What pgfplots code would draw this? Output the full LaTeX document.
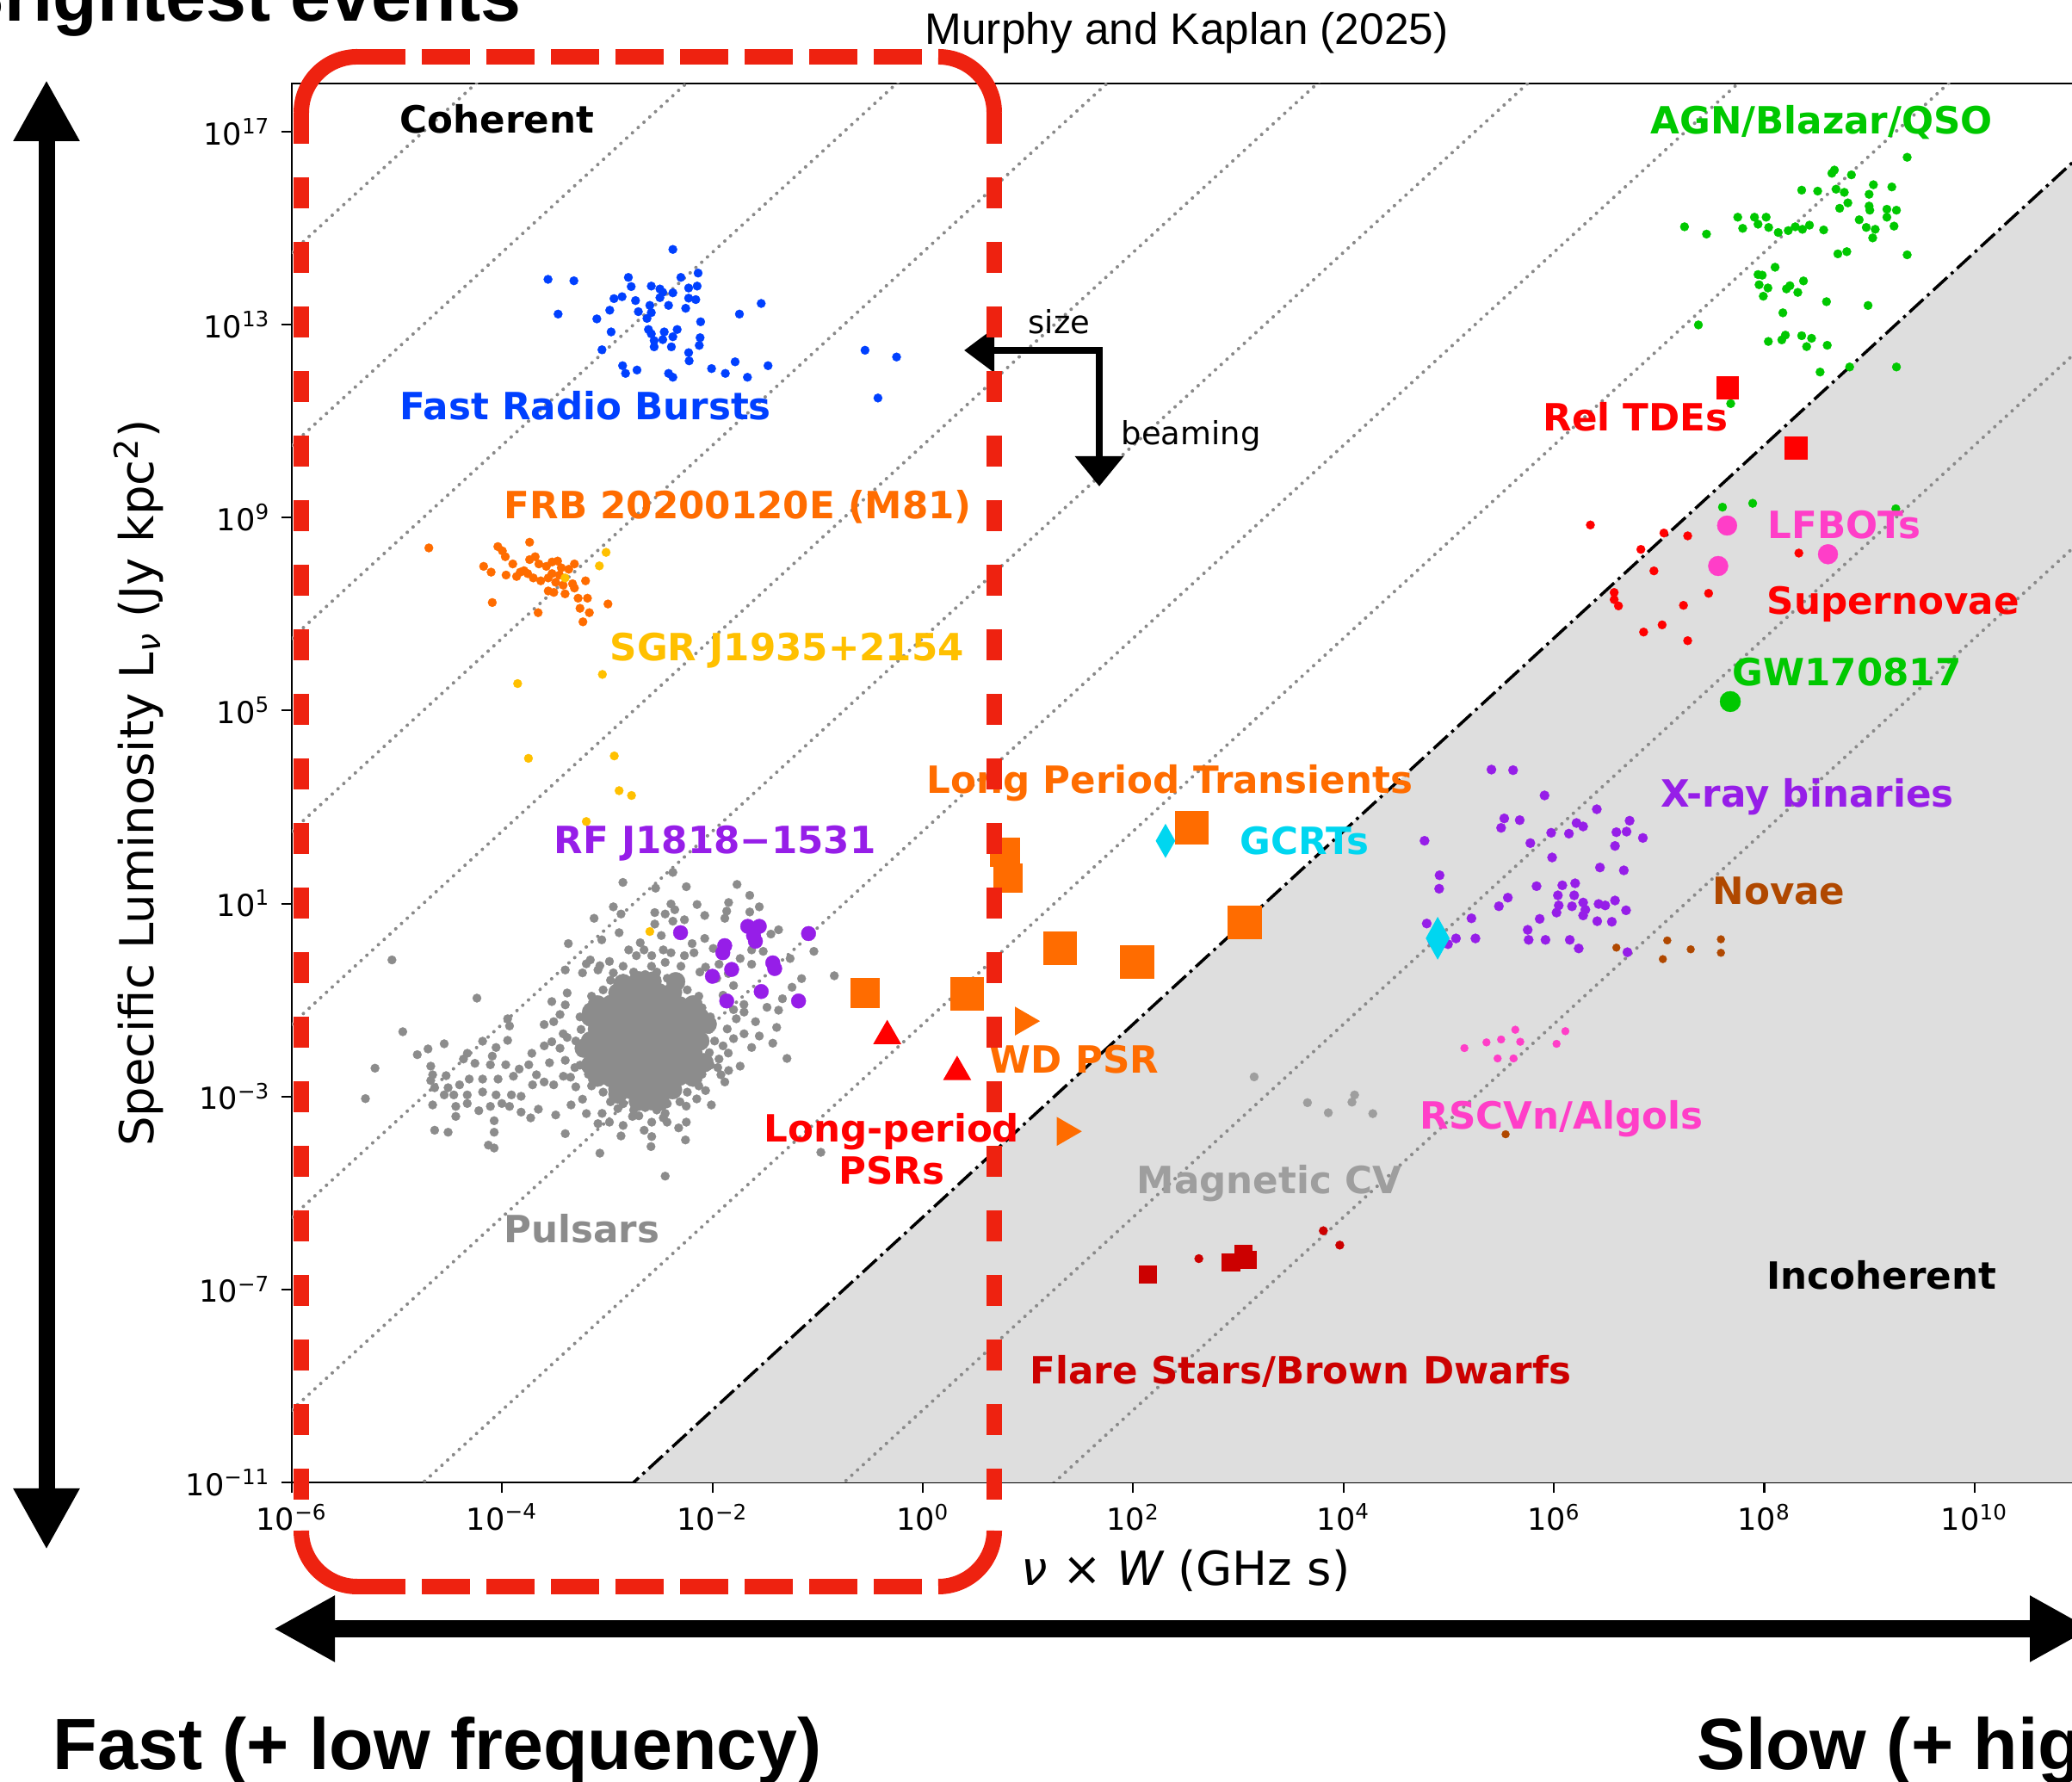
\documentclass[border=0pt]{standalone}
\usepackage{fontspec}
\setmainfont{DejaVu Sans}
\newfontfamily\helv{Liberation Sans}
\usepackage{pgfplots}
\pgfplotsset{compat=1.18}
\usetikzlibrary{arrows.meta}

\definecolor{frbblue}{RGB}{0,64,255}
\definecolor{lptorange}{RGB}{255,108,0}
\definecolor{sgryellow}{RGB}{255,192,0}
\definecolor{magpurple}{RGB}{150,30,232}
\definecolor{psrgray}{RGB}{140,140,140}
\definecolor{cvgray}{RGB}{158,158,158}
\definecolor{gcrtcyan}{RGB}{0,214,240}
\definecolor{agngreen}{RGB}{0,200,0}
\definecolor{lfbotpink}{RGB}{255,62,200}
\definecolor{novabrown}{RGB}{176,72,0}
\definecolor{flarered}{RGB}{204,0,0}
\definecolor{incohgray}{RGB}{222,222,222}
\definecolor{dotgray}{RGB}{138,138,138}
\definecolor{boxred}{RGB}{238,34,16}

\pgfplotsset{
  pts/.style={only marks, mark=*, mark size=#1, mark options={line width=0.1pt}},
  pts/.default=0.5mm,
  tbline/.style={dotgray, line width=0.4mm, line cap=round, dash pattern=on 0.01mm off 0.9mm},
}
\newcommand{\lab}{\fontsize{12.4}{15}\selectfont\bfseries}

\begin{document}
\begin{tikzpicture}
\useasboundingbox (0,0) rectangle (240.7mm,206.9mm);
\clip (0,0) rectangle (240.7mm,206.9mm);

\begin{axis}[
  at={(33.9mm,34.7mm)}, anchor=south west,
  scale only axis, width=207.7mm, height=162.5mm,
  xmin=-6, xmax=11, ymin=-11, ymax=18,
  axis line style={line width=0.6pt},
  xtick={-6,-4,-2,0,2,4,6,8,10},
  xticklabels={10\textsuperscript{−6},10\textsuperscript{−4},10\textsuperscript{−2},10\textsuperscript{0},10\textsuperscript{2},10\textsuperscript{4},10\textsuperscript{6},10\textsuperscript{8},10\textsuperscript{10}},
  ytick={-11,-7,-3,1,5,9,13,17},
  yticklabels={10\textsuperscript{−11},10\textsuperscript{−7},10\textsuperscript{−3},10\textsuperscript{1},10\textsuperscript{5},10\textsuperscript{9},10\textsuperscript{13},10\textsuperscript{17}},
  xtick pos=bottom, ytick pos=left,
  tick align=outside,
  major tick length=1.25mm,
  every tick/.style={black, line width=0.6pt},
  tick label style={font=\fontsize{10}{12}\selectfont},
  xlabel={{\itshape ν} × {\itshape W} (GHz s)},
  ylabel={Specific Luminosity L\textsubscript{\itshape ν} (Jy kpc\textsuperscript{2})},
  label style={font=\fontsize{15.5}{18}\selectfont},
  xlabel style={at={(axis description cs:0.5,-0.0628)}, anchor=center},
  ylabel style={at={(axis description cs:-0.0857,0.5)}, anchor=center},
]

% incoherent (brightness temperature limit) region
\addplot[fill=incohgray, draw=none] coordinates {(-2.75,-11) (11,16.5) (11,-11) (-2.75,-11)};

% lines of constant brightness temperature
\addplot[tbline] coordinates {(-6,-25.5) (11,8.5)};
\addplot[tbline] coordinates {(-6,-21.5) (11,12.5)};
\addplot[tbline] coordinates {(-6,-13.5) (11,20.5)};
\addplot[tbline] coordinates {(-6,-9.5) (11,24.5)};
\addplot[tbline] coordinates {(-6,-5.5) (11,28.5)};
\addplot[tbline] coordinates {(-6,-1.5) (11,32.5)};
\addplot[tbline] coordinates {(-6,2.5) (11,36.5)};
\addplot[tbline] coordinates {(-6,6.5) (11,40.5)};
\addplot[tbline] coordinates {(-6,10.5) (11,44.5)};
\addplot[tbline] coordinates {(-6,14.5) (11,48.5)};
\addplot[black, line width=0.35mm, dash pattern=on 2.2mm off 0.6mm on 0.35mm off 0.6mm] coordinates {(-6,-17.5) (11,16.5)};

% pulsars: dense core
\addplot[pts=1.1mm, psrgray] coordinates {
(-3.16,-1.85) (-3.03,-1.83) (-2.90,-1.86) (-2.77,-1.84) (-2.64,-1.85) (-2.51,-1.87) (-2.38,-1.84) (-2.25,-1.86) (-2.12,-1.85)
(-3.095,-2.10) (-2.965,-2.11) (-2.835,-2.09) (-2.705,-2.10) (-2.575,-2.12) (-2.445,-2.10) (-2.315,-2.08) (-2.185,-2.10)
(-3.095,-1.60) (-2.965,-1.59) (-2.835,-1.61) (-2.705,-1.60) (-2.575,-1.58) (-2.445,-1.60) (-2.315,-1.62) (-2.185,-1.60)
(-3.16,-2.35) (-3.03,-2.36) (-2.90,-2.34) (-2.77,-2.35) (-2.64,-2.37) (-2.51,-2.35) (-2.38,-2.33) (-2.25,-2.35) (-2.12,-2.34)
(-3.16,-1.35) (-3.03,-1.34) (-2.90,-1.36) (-2.77,-1.35) (-2.64,-1.33) (-2.51,-1.35) (-2.38,-1.37) (-2.25,-1.35) (-2.12,-1.36)
(-3.095,-2.60) (-2.965,-2.61) (-2.835,-2.59) (-2.705,-2.60) (-2.575,-2.62) (-2.445,-2.60) (-2.315,-2.58) (-2.185,-2.60)
(-3.095,-1.10) (-2.965,-1.09) (-2.835,-1.11) (-2.705,-1.10) (-2.575,-1.08) (-2.445,-1.10) (-2.315,-1.12) (-2.185,-1.10)
(-2.90,-2.85) (-2.77,-2.86) (-2.64,-2.84) (-2.51,-2.85) (-2.38,-2.86)
(-2.90,-0.85) (-2.77,-0.84) (-2.64,-0.86) (-2.51,-0.85) (-2.38,-0.84)
(-2.705,-3.10) (-2.575,-3.09) (-2.705,-0.60) (-2.575,-0.61)
(-3.22,-2.00) (-3.15,-1.25) (-2.05,-1.50) (-2.08,-2.30) (-2.35,-0.62) (-2.85,-0.66) (-2.50,-3.10) (-2.90,-2.95)
};
% pulsars: edges of the core and the wider population
\addplot[pts, psrgray] coordinates {
(-1.98,-1.85) (-2.02,-1.35) (-2.13,-0.92) (-2.31,-0.59) (-2.53,-0.42) (-2.75,-0.42) (-2.97,-0.59) (-3.15,-0.92) (-3.26,-1.35)
(-3.30,-1.85) (-3.26,-2.35) (-3.15,-2.78) (-2.97,-3.11) (-2.75,-3.28) (-2.53,-3.28) (-2.31,-3.11) (-2.13,-2.78) (-2.02,-2.35)
(-2.03,-1.61) (-2.10,-1.16) (-2.24,-0.79) (-2.43,-0.55) (-2.64,-0.47) (-2.85,-0.55) (-3.04,-0.79) (-3.18,-1.16) (-3.25,-1.61)
(-3.25,-2.09) (-3.18,-2.54) (-3.04,-2.91) (-2.85,-3.15) (-2.64,-3.23) (-2.43,-3.15) (-2.24,-2.91) (-2.10,-2.54) (-2.03,-2.09)
(-3.20,-0.25) (-2.98,-0.20) (-2.85,-0.30) (-2.58,-0.30) (-2.45,-0.22) (-2.30,-0.30) (-2.12,-0.42) (-1.96,-0.55) (-1.85,-0.45) (-1.80,-0.70)
(-1.90,-0.90) (-1.80,-1.20) (-1.86,-1.60) (-1.90,-1.95) (-1.80,-1.80) (-1.70,-1.25) (-1.95,-2.40) (-1.92,-2.55) (-1.70,-1.70) (-1.85,-2.10)
(-3.40,-1.10) (-3.45,-1.30) (-3.42,-1.70) (-3.45,-2.00) (-3.40,-2.25) (-3.35,-2.60) (-3.30,-2.80) (-3.55,-2.30) (-3.60,-1.95)
(-3.05,-3.35) (-2.90,-3.25) (-2.70,-3.40) (-2.45,-3.35) (-2.25,-3.20) (-2.15,-3.05) (-2.85,-3.60) (-2.65,-3.70)
(-2.852,1.438) (-2.377,1.646) (-2.541,1.319) (-2.249,1.349) (-1.767,1.396) (-1.646,1.170) (-1.847,1.021) (-1.555,0.932)
(-3.126,0.694) (-2.943,0.932) (-2.870,0.783) (-2.549,0.813) (-2.395,0.991) (-2.359,0.872) (-2.450,0.783) (-2.147,0.980)
(-2.074,0.753) (-1.883,0.694) (-1.865,0.843) (-1.646,0.825) (-2.377,0.634) (-2.549,0.575) (-2.267,0.664) (-2.888,0.396)
(-3.371,0.170) (-3.053,0.248) (-2.687,0.188) (-2.651,0.039) (-2.487,0.337) (-2.468,0.039) (-2.194,0.170) (-2.074,0.277)
(-1.372,0.456) (-1.445,0.367) (-1.036,0.009) (-3.162,-0.169) (-3.071,-0.288) (-2.797,0.039) (-2.724,-0.080) (-2.578,-0.080)
(-2.395,-0.020) (-2.267,-0.080) (-2.176,-0.020) (-1.993,0.069) (-1.628,0.039) (-1.518,0.009) (-1.262,-0.139) (-1.737,-0.139)
(-1.628,-0.258) (-5.048,-0.169) (-3.400,-0.377) (-3.236,-0.437) (-3.089,-0.377) (-2.943,-0.437) (-2.066,-0.318) (-1.938,-0.258)
(-1.153,-0.556) (-1.244,-0.735) (-0.842,-0.497) (-1.335,-0.973) (-1.482,-1.151) (-1.372,-1.211) (-1.701,-1.092) (-1.774,-1.389)
(-1.591,-1.449) (-1.390,-1.568) (-1.555,-1.746) (-1.628,-1.984) (-1.427,-1.895) (-1.292,-2.211) (-1.737,-2.371) (-4.240,-0.961)
(-3.528,-1.032) (-3.382,-0.854) (-3.601,-1.508) (-3.510,-1.449) (-3.948,-1.389) (-3.930,-1.538) (-4.945,-1.657) (-4.551,-1.907)
(-4.705,-2.014) (-4.807,-2.133) (-4.331,-2.104) (-4.368,-2.223) (-4.186,-1.854) (-4.058,-1.984) (-4.094,-2.163) (-3.948,-1.836)
(-3.718,-2.104) (-3.528,-1.865) (-3.382,-1.776) (-5.209,-2.413) (-4.679,-2.371) (-4.661,-2.550) (-4.533,-2.568) (-4.259,-2.312)
(-4.112,-2.342) (-3.966,-2.342) (-3.838,-2.431) (-3.747,-2.342) (-3.674,-2.550) (-3.893,-2.580) (-4.039,-2.639) (-4.186,-2.639)
(-4.313,-2.639) (-4.405,-2.758) (-4.514,-2.818) (-4.679,-2.669) (-4.642,-2.818) (-4.551,-2.967) (-4.460,-2.967) (-4.332,-2.967)
(-4.186,-2.907) (-4.058,-2.967) (-3.912,-2.967) (-3.820,-2.996) (-3.711,-2.758) (-3.601,-2.699) (-3.510,-2.758) (-3.418,-2.580)
(-3.309,-2.401) (-5.300,-3.044) (-4.661,-3.175) (-4.441,-3.205) (-4.332,-3.145) (-4.222,-3.294) (-4.112,-3.205) (-4.003,-3.145)
(-3.930,-3.205) (-3.820,-3.324) (-3.656,-3.264) (-3.491,-3.383) (-3.345,-3.175) (-3.236,-3.056) (-4.642,-3.699) (-4.514,-3.741)
(-4.441,-3.413) (-4.076,-3.502) (-4.076,-3.741) (-4.131,-4.008) (-4.076,-4.068) (-3.729,-3.443) (-3.400,-3.770) (-3.199,-3.354)
(-3.089,-3.562) (-2.980,-3.532) (-2.870,-3.818) (-3.071,-4.175) (-2.761,-3.413) (-2.578,-3.532) (-2.468,-3.443) (-2.578,-3.830)
(-2.585,-4.038) (-2.432,-3.532) (-2.322,-3.651) (-2.249,-3.532) (-2.257,-3.901) (-2.450,-4.651) (-2.011,-3.175) (-2.066,-2.877)
(-0.970,-4.157) (-1.883,-2.699) (-1.847,-2.461) (-1.938,-2.223)
};

% magnetic CVs
\addplot[pts, cvgray] coordinates {(3.150,-2.593) (3.657,-3.128) (3.855,-3.337) (4.080,-3.117) (4.105,-2.968) (4.278,-3.355)};

% fast radio bursts
\addplot[pts, frbblue] coordinates {
(-2.377,14.56) (-3.564,13.94) (-3.318,13.91) (-2.800,13.98) (-2.301,13.98) (-2.137,14.07) (-2.773,13.79) (-2.582,13.80)
(-2.500,13.74) (-2.473,13.67) (-2.377,13.66) (-2.227,13.76) (-2.146,13.80) (-2.937,13.54) (-2.860,13.58) (-2.732,13.50)
(-2.500,13.56) (-2.418,13.40) (-2.255,13.34) (-2.227,13.55) (-2.159,13.52) (-3.468,13.22) (-3.100,13.12) (-2.977,13.30)
(-2.705,13.27) (-2.596,13.40) (-2.582,13.25) (-2.623,13.13) (-2.113,13.06) (-2.964,12.85) (-2.609,12.90) (-2.582,12.81)
(-2.459,12.85) (-2.336,12.90) (-2.377,12.75) (-2.555,12.67) (-2.473,12.69) (-2.118,12.73) (-3.051,12.48) (-2.555,12.54)
(-2.391,12.54) (-2.227,12.42) (-2.126,12.57) (-2.855,12.15) (-2.718,12.06) (-2.827,11.99) (-2.418,11.99) (-2.377,11.91)
(-2.222,12.25) (-2.009,12.09) (-1.878,11.99) (-1.785,12.23) (-1.668,11.91) (-1.472,12.15) (-1.537,13.44) (-1.744,13.22)
(-0.550,12.47) (-0.250,12.33) (-0.427,11.48)
};

% FRB 20200120E in M81
\addplot[pts, lptorange] coordinates {
(-4.697,8.372) (-4.041,8.40) (-3.998,8.31) (-3.739,8.49) (-3.970,8.19) (-3.899,8.04) (-4.176,7.99) (-4.105,7.87)
(-3.963,7.81) (-3.863,7.78) (-3.792,7.90) (-3.739,8.13) (-3.686,8.19) (-3.651,8.04) (-3.580,7.99) (-3.526,8.08)
(-3.473,8.10) (-3.438,7.96) (-3.367,7.93) (-3.313,8.04) (-3.704,7.75) (-3.633,7.69) (-3.562,7.75) (-3.491,7.66)
(-3.420,7.60) (-3.331,7.63) (-3.562,7.48) (-3.509,7.45) (-3.402,7.42) (-3.313,7.54) (-3.207,7.69) (-3.278,7.33)
(-3.189,7.33) (-3.260,7.12) (-3.171,7.03) (-3.232,6.84) (-2.994,7.21) (-4.094,7.24) (-3.658,7.03) (-3.828,7.87)
(-3.757,7.84) (-3.526,7.84) (-3.455,7.81)
};

% SGR J1935+2154
\addplot[pts, sgryellow] coordinates {
(-3.012,8.28) (-3.076,8.00) (-3.402,7.75) (-3.047,5.75) (-3.853,5.56) (-3.750,4.01) (-2.934,4.06) (-2.888,3.34)
(-2.770,3.24) (-3.200,2.70) (-2.596,0.42)
};

% RF J1818-1531
\addplot[pts=0.85mm, magpurple] coordinates {
(-2.304,0.396) (-1.665,0.527) (-1.555,0.527) (-1.610,0.337) (-1.592,0.218) (-1.087,0.378) (-1.884,0.128) (-1.902,-0.020)
(-1.427,-0.229) (-1.409,-0.348) (-1.818,-0.366) (-2.001,-0.508) (-1.537,-0.824) (-1.865,-1.020) (-1.182,-1.020)
};

% long period transients
\addplot[only marks, mark=square*, mark size=1.9mm, lptorange] coordinates {(2.558,2.569) (3.060,0.604) (1.303,0.068) (2.037,-0.211) (0.422,-0.872)};
\addplot[only marks, mark=square*, mark size=1.65mm, lptorange] coordinates {(0.781,2.063) (0.812,1.527) (-0.551,-0.854)};

% white dwarf pulsars
\addplot[only marks, mark=triangle*, mark size=1.8mm, lptorange, mark options={rotate=-90}] coordinates {(0.955,-1.437) (1.353,-3.723)};

% long-period pulsars
\addplot[only marks, mark=triangle*, mark size=1.75mm, red] coordinates {(-0.339,-1.747) (0.326,-2.491)};

% AGN / blazars / QSOs
\addplot[pts, agngreen] coordinates {
(9.359,16.47) (8.667,16.205) (8.643,16.139) (8.829,16.106) (9.038,15.901) (9.213,15.855) (8.356,15.789) (8.508,15.769)
(8.683,15.809) (8.761,15.743) (8.997,15.703) (8.795,15.525) (8.717,15.413) (8.997,15.459) (9.004,15.373) (9.166,15.393)
(9.257,15.373) (8.903,15.175) (9.166,15.228) (9.234,15.043) (8.970,15.016) (9.055,14.977) (9.031,14.799) (7.748,15.228)
(7.907,15.228) (8.018,15.228) (7.941,15.083) (7.795,14.997) (8.042,15.016) (8.133,14.911) (8.228,14.950) (8.295,15.030)
(8.363,14.977) (8.430,15.063) (8.565,14.964) (7.242,15.030) (7.451,14.878) (8.700,14.468) (8.785,14.514) (9.359,14.448)
(8.103,14.191) (7.941,14.039) (7.981,14.026) (7.951,13.828) (8.035,13.761) (8.211,13.742) (8.244,13.808) (8.319,13.669)
(8.373,13.907) (7.991,13.590) (8.592,13.477) (8.987,13.398) (8.177,13.246) (7.374,12.995) (8.201,12.784) (8.167,12.685)
(8.039,12.652) (8.356,12.771) (8.450,12.718) (8.403,12.546) (8.599,12.573) (8.531,12.018) (8.812,12.123) (9.257,12.123)
(7.681,11.364) (7.603,9.217) (7.890,9.297) (9.251,9.184)
};

% relativistic TDEs
\addplot[only marks, mark=square*, mark size=1.25mm, red] coordinates {(7.654,11.694) (8.302,10.439)};

% supernovae
\addplot[pts, red] coordinates {
(6.347,8.848) (7.046,8.681) (7.272,8.622) (6.827,8.342) (6.951,7.896) (6.573,7.449) (6.573,7.301) (6.614,7.170)
(7.232,7.182) (7.471,7.431) (7.029,6.777) (6.853,6.628) (7.272,6.449) (8.329,8.265)
};

% LFBOTs
\addplot[pts=1.15mm, lfbotpink] coordinates {(7.647,8.836) (7.562,7.997) (8.606,8.241)};

% GW170817
\addplot[pts=1.2mm, agngreen] coordinates {(7.677,5.187)};

% X-ray binaries
\addplot[pts=0.55mm, magpurple] coordinates {
(5.406,3.777) (5.612,3.765) (5.911,3.241) (6.408,2.955) (5.528,2.765) (5.675,2.729) (5.498,2.569) (6.215,2.670)
(6.278,2.598) (6.720,2.717) (6.594,2.479) (6.691,2.491) (6.846,2.360) (5.974,2.467) (6.143,2.449) (4.770,2.301)
(5.776,2.253) (6.581,2.194) (5.983,1.955) (6.438,1.747) (6.665,1.688) (4.913,1.586) (4.909,1.307) (5.835,1.360)
(6.080,1.378) (6.202,1.420) (5.562,1.122) (5.477,0.944) (6.038,1.170) (6.193,1.170) (6.046,0.961) (6.025,0.813)
(6.172,0.943) (6.278,1.021) (6.299,0.872) (6.425,0.991) (6.488,0.961) (6.581,1.063) (6.686,0.860) (6.278,0.753)
(6.412,0.634) (6.551,0.622) (5.865,0.682) (5.216,0.694) (4.791,0.586) (5.751,0.455) (5.760,0.247) (5.920,0.247)
(6.151,0.247) (6.236,0.069) (6.699,-0.009) (5.069,0.277) (5.254,0.277) (4.993,0.158) (4.846,0.217)
};

% GCRTs
\addplot[only marks, mark=diamond*, mark size=1.85mm, gcrtcyan, mark options={xscale=0.76}] coordinates {(2.307,2.30)};
\addplot[only marks, mark=diamond*, mark size=2.35mm, gcrtcyan, mark options={xscale=0.74}] coordinates {(4.895,0.28)};

% novae
\addplot[pts=0.45mm, novabrown] coordinates {(6.594,0.086) (7.078,0.235) (7.036,-0.152) (7.301,0.051) (7.588,0.259) (7.588,-0.021) (5.541,-3.783)};

% RS CVn / Algols
\addplot[pts=0.45mm, lfbotpink] coordinates {(5.149,-1.997) (5.359,-1.878) (5.498,-1.818) (5.633,-1.616) (5.680,-1.866) (5.465,-2.211) (5.616,-2.211) (6.025,-1.908) (6.109,-1.646)};

% flare stars and brown dwarfs
\addplot[only marks, mark=square*, mark size=1.0mm, flarered] coordinates {(2.138,-6.688) (2.928,-6.438) (3.047,-6.271) (3.084,-6.390)};
\addplot[pts=0.5mm, flarered] coordinates {(2.624,-6.361) (3.808,-5.783) (3.964,-6.081)};
\end{axis}

\begin{scope}[x=0.1mm, y=0.1mm]
% class labels
\begin{scope}[every node/.style={inner sep=0pt, anchor=base west, font=\lab}]
\node at (464,1914) {Coherent};
\node[agngreen] at (1917,1913) {AGN/Blazar/QSO};
\node[frbblue] at (464,1581) {Fast Radio Bursts};
\node[lptorange] at (585,1466) {FRB 20200120E (M81)};
\node[sgryellow] at (708,1301) {SGR J1935+2154};
\node[magpurple] at (643,1077) {RF J1818−1531};
\node[psrgray] at (585,625) {Pulsars};
\node[lptorange] at (1076,1147) {Long Period Transients};
\node[gcrtcyan] at (1440,1076) {GCRTs};
\node[lptorange] at (1149,822) {WD PSR};
\node[red, anchor=base] at (1036,742) {Long-period};
\node[red, anchor=base] at (1036,693) {PSRs};
\node[red] at (1792,1568) {Rel TDEs};
\node[lfbotpink] at (2053,1443) {LFBOTs};
\node[red] at (2052,1355) {Supernovae};
\node[agngreen] at (2012,1272) {GW170817};
\node[magpurple] at (1929,1131) {X-ray binaries};
\node[novabrown] at (1989,1018) {Novae};
\node[lfbotpink] at (1649,757) {RSCVn/Algols};
\node[cvgray] at (1320,682) {Magnetic CV};
\node[flarered] at (1196,461) {Flare Stars/Brown Dwarfs};
\node at (2052,571) {Incoherent};
\node[font=\fontsize{10.5}{12}\selectfont] at (1194,1681) {size};
\node[font=\fontsize{10.5}{12}\selectfont] at (1302,1552) {beaming};
\end{scope}

% size / beaming arrows
\draw[line width=0.75mm, line join=miter, {Triangle[length=3.5mm,width=5mm]}-{Triangle[length=3.5mm,width=5.5mm]}]
  (1120,1662) -- (1277,1662) -- (1277,1504);

% coherent, fast-transient box
\begin{scope}[boxred, line width=1.8mm]
\draw[dash pattern=on 3.6mm off 3.9mm] (350,1938) -- (350,291);
\draw[dash pattern=on 3.6mm off 3.9mm] (1155,1938) -- (1155,291);
\draw[dash pattern=on 5.6mm off 1.9mm] (415,2003) -- (1090,2003);
\draw[dash pattern=on 5.6mm off 1.9mm] (415,226) -- (1090,226);
\draw (350,1938) arc[start angle=180, end angle=90, radius=65];
\draw (1090,2003) arc[start angle=90, end angle=0, radius=65];
\draw (1155,291) arc[start angle=0, end angle=-90, radius=65];
\draw (415,226) arc[start angle=270, end angle=180, radius=65];
\end{scope}

% outer annotation arrows
\draw[line width=1.9mm, {Triangle[length=7.1mm,width=7.2mm]}-{Triangle[length=7.1mm,width=7.2mm]}] (318,177) -- (2429,177);
\draw[line width=1.9mm, {Triangle[length=7.1mm,width=7.2mm]}-{Triangle[length=7.1mm,width=7.2mm]}] (54,1976) -- (54,269);

% outer annotation text
\node[inner sep=0pt, anchor=base west, font=\helv\fontsize{14.6}{17}\selectfont] at (1074,2017) {Murphy and Kaplan (2025)};
\node[inner sep=0pt, anchor=base west, font=\helv\bfseries\fontsize{24}{28}\selectfont] at (61,14) {Fast (+ low frequency)};
\node[inner sep=0pt, anchor=base west, font=\helv\bfseries\fontsize{24}{28}\selectfont] at (1971,14) {Slow (+ high frequency)};
\node[inner sep=0pt, anchor=base east, font=\helv\bfseries\fontsize{24}{28}\selectfont] at (606,2044) {Brightest events};
\end{scope}
\end{tikzpicture}
\end{document}
